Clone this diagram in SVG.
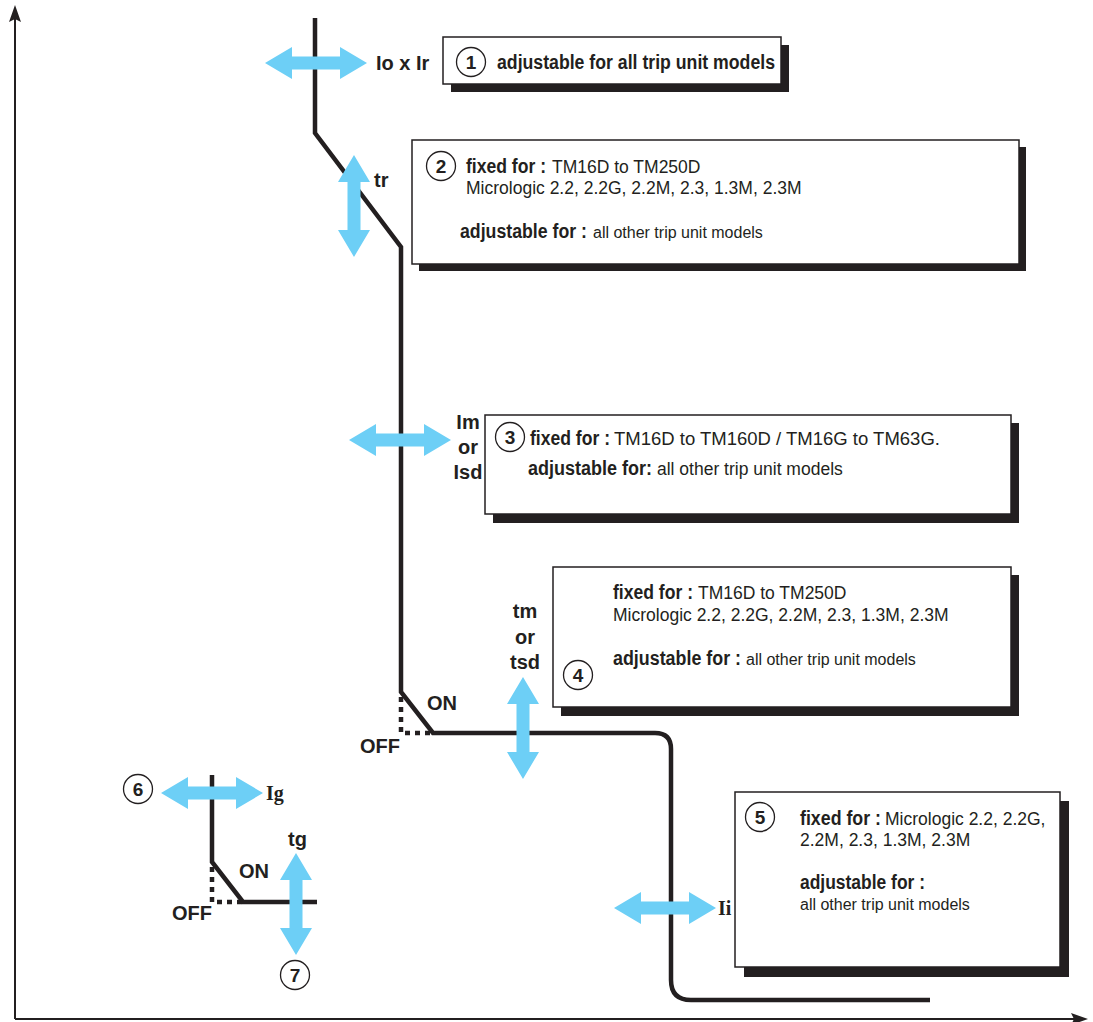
<svg xmlns="http://www.w3.org/2000/svg" width="1093" height="1022" viewBox="0 0 1093 1022">
<style>
  text { font-family: "Liberation Sans", Arial, sans-serif; fill: #231f20; }
  .b { font-weight: bold; font-size: 20px; }
  .lbl { font-weight: bold; font-size: 20px; }
  .ser { font-family: "Liberation Serif", "Times New Roman", serif; font-weight: bold; font-size: 20px; }
  .r { font-size: 17.5px; }
  .s { font-size: 16px; }
  .box { fill: #fff; stroke: #231f20; stroke-width: 1.5; }
  .shadow { fill: #231f20; }
  .circ { fill: #fff; stroke: #231f20; stroke-width: 1.3; }
  .num { font-weight: bold; font-size: 19px; text-anchor: middle; }
  .curve { fill: none; stroke: #231f20; stroke-width: 4.5; stroke-linejoin: miter; }
  .dot { fill: none; stroke: #231f20; stroke-width: 4.5; stroke-dasharray: 5 5; }
  .arr { fill: #6dcff6; }
  .axis { stroke: #231f20; stroke-width: 2; fill: none; }
</style>
<defs>
  <path id="dbl" class="arr" d="M-51,0 L-24,-16 L-24,-6.5 L24,-6.5 L24,-16 L51,0 L24,16 L24,6.5 L-24,6.5 L-24,16 Z"/>
</defs>

<g id="axes">
  <line class="axis" x1="15" y1="1019" x2="15" y2="18"/>
  <path d="M15,5 L21,22 L15,19 L9,22 Z" fill="#231f20"/>
  <line class="axis" x1="15" y1="1019" x2="1075" y2="1019"/>
  <path d="M1088,1019 L1071,1025 L1074,1019 L1071,1013 Z" fill="#231f20"/>
</g>

<g id="connectors">
  <path class="curve" d="M315,18 L315,133 L401,247 L401,692 L433,733 L655,733 Q671,733 671,749 L671,980 Q671,1000 691,1000 L930,1000"/>
  <path class="dot" d="M401,697 L401,733 L433,733"/>
  <path class="curve" d="M212,775 L212,862 L243,902 L317,902"/>
  <path class="dot" d="M212,867 L212,902 L243,902"/>
</g>

<g id="arrow1"><use href="#dbl" transform="translate(316,63)"/><text class="lbl" x="376" y="70">Io x Ir</text></g>
<g id="arrow2"><use href="#dbl" transform="translate(354,206) rotate(90)"/><text class="lbl" x="374" y="187">tr</text></g>
<g id="arrow3"><use href="#dbl" transform="translate(400,440)"/>
  <text class="lbl" x="468" y="429" text-anchor="middle" font-size="21">Im</text>
  <text class="lbl" x="468" y="454" text-anchor="middle" font-size="21">or</text>
  <text class="lbl" x="468" y="479" text-anchor="middle" font-size="21">Isd</text>
</g>
<g id="arrow4"><use href="#dbl" transform="translate(523,728) rotate(90)"/>
  <text class="lbl" x="525" y="618" text-anchor="middle" font-size="21">tm</text>
  <text class="lbl" x="525" y="644" text-anchor="middle" font-size="21">or</text>
  <text class="lbl" x="525" y="669" text-anchor="middle" font-size="21">tsd</text>
  <text class="lbl" x="427" y="710" font-size="19">ON</text>
  <text class="lbl" x="360" y="753" font-size="19">OFF</text>
</g>
<g id="arrow5"><use href="#dbl" transform="translate(665,908)"/><text class="ser" x="718" y="915">Ii</text></g>
<g id="arrow6"><use href="#dbl" transform="translate(212,793)"/><text class="ser" x="266" y="800">Ig</text></g>
<g id="arrow7"><use href="#dbl" transform="translate(296,904) rotate(90)"/>
  <text class="lbl" x="288" y="846" font-size="19">tg</text>
  <text class="lbl" x="239" y="878" font-size="19">ON</text>
  <text class="lbl" x="172" y="920" font-size="19">OFF</text>
</g>

<g id="node1">
  <rect class="shadow" x="451" y="45" width="338" height="47"/>
  <rect class="box" x="443" y="37" width="338" height="47"/>
  <circle class="circ" cx="471" cy="62" r="14.5"/><text class="num" x="471" y="69">1</text>
  <text class="b" font-size="20.5" x="497" y="69" textLength="278" lengthAdjust="spacingAndGlyphs">adjustable for all trip unit models</text>
</g>

<g id="node2">
  <rect class="shadow" x="419" y="147" width="607" height="124"/>
  <rect class="box" x="412" y="140" width="607" height="124"/>
  <circle class="circ" cx="441" cy="166" r="14.5"/><text class="num" x="441" y="173">2</text>
  <text class="b" x="466" y="173" textLength="80" lengthAdjust="spacingAndGlyphs">fixed for :</text>
  <text class="r" x="552" y="173">TM16D to TM250D</text>
  <text class="r" x="466" y="194">Micrologic 2.2, 2.2G, 2.2M, 2.3, 1.3M, 2.3M</text>
  <text class="b" x="460" y="238" textLength="127" lengthAdjust="spacingAndGlyphs">adjustable for :</text>
  <text class="s" x="593" y="238">all other trip unit models</text>
</g>

<g id="node3">
  <rect class="shadow" x="493" y="423" width="526" height="100"/>
  <rect class="box" x="485" y="415" width="526" height="99"/>
  <circle class="circ" cx="510" cy="437" r="14.5"/><text class="num" x="510" y="444">3</text>
  <text class="b" x="530" y="445" textLength="80" lengthAdjust="spacingAndGlyphs">fixed for :</text>
  <text font-size="18.5" x="614" y="445">TM16D to TM160D / TM16G to TM63G.</text>
  <text class="b" x="528" y="475" textLength="124" lengthAdjust="spacingAndGlyphs">adjustable for:</text>
  <text class="r" x="657" y="475">all other trip unit models</text>
</g>

<g id="node4">
  <rect class="shadow" x="561" y="575" width="458" height="141"/>
  <rect class="box" x="553" y="567" width="458" height="140"/>
  <circle class="circ" cx="578" cy="675" r="14.5"/><text class="num" x="578" y="682">4</text>
  <text class="b" x="613" y="599" textLength="80" lengthAdjust="spacingAndGlyphs">fixed for :</text>
  <text class="r" x="698" y="599">TM16D to TM250D</text>
  <text class="r" x="613" y="621" font-size="17.7">Micrologic 2.2, 2.2G, 2.2M, 2.3, 1.3M, 2.3M</text>
  <text class="b" x="613" y="665" textLength="128" lengthAdjust="spacingAndGlyphs">adjustable for :</text>
  <text class="s" x="746" y="665">all other trip unit models</text>
</g>

<g id="node5">
  <rect class="shadow" x="744" y="801" width="325" height="176"/>
  <rect class="box" x="735" y="792" width="325" height="175"/>
  <circle class="circ" cx="760" cy="817" r="14.5"/><text class="num" x="760" y="824">5</text>
  <text class="b" x="800" y="825" textLength="81" lengthAdjust="spacingAndGlyphs">fixed for :</text>
  <text class="r" x="885" y="825" font-size="17.8">Micrologic 2.2, 2.2G,</text>
  <text class="r" x="800" y="846" font-size="17.8">2.2M, 2.3, 1.3M, 2.3M</text>
  <text class="b" x="800" y="889" textLength="125" lengthAdjust="spacingAndGlyphs">adjustable for :</text>
  <text class="s" x="800" y="910">all other trip unit models</text>
</g>

<g id="node6">
  <circle class="circ" cx="138" cy="789" r="14.5"/><text class="num" x="138" y="796">6</text>
</g>
<g id="node7">
  <circle class="circ" cx="295" cy="975" r="14.5"/><text class="num" x="295" y="982">7</text>
</g>
</svg>
